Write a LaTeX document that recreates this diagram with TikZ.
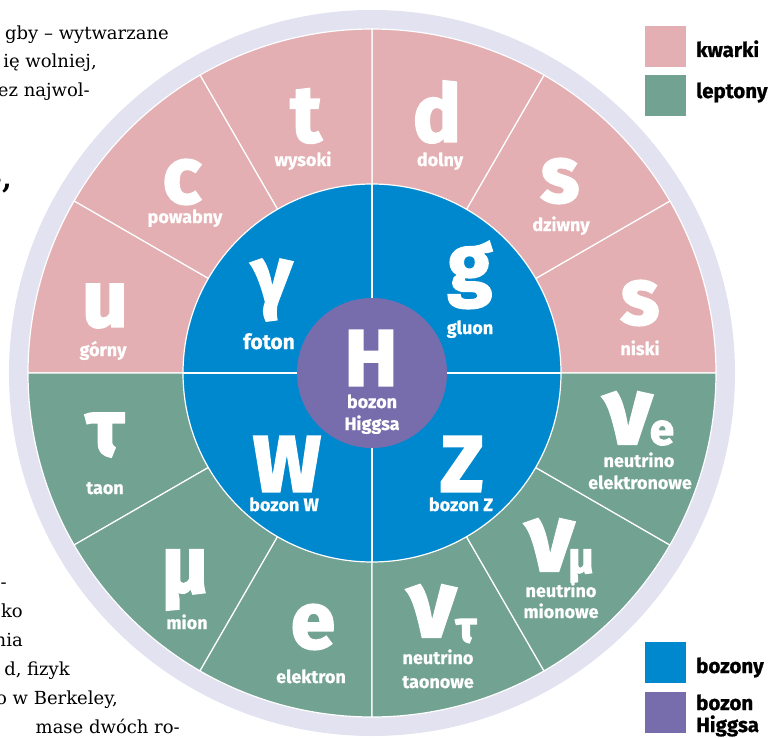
\documentclass[tikz,border=0pt]{standalone}
\usepackage{fontspec}
\newfontfamily\labfont{Fira Sans}[FakeBold=0.5]
\newfontfamily\legfont{Fira Sans}[FakeBold=0.8]
\newfontfamily\heavyfont{Fira Sans}[FakeBold=2.5]
\newfontfamily\bodyfont{DejaVu Serif}
\definecolor{quark}{HTML}{E3AFB2}
\definecolor{lepton}{HTML}{72A291}
\definecolor{boson}{HTML}{0088CF}
\definecolor{higgs}{HTML}{786DAC}
\definecolor{ring}{HTML}{E3E2F1}
\tikzset{
  sep/.style={draw=white, line width=1.2pt},
  bigl/.style={text=white, inner sep=0pt, anchor=center, font=\heavyfont\bfseries\fontsize{80}{80}\selectfont},
  nul/.style={text=white, inner sep=0pt, anchor=center, font=\heavyfont\bfseries\fontsize{95}{95}\selectfont},
  subl/.style={text=white, inner sep=0pt, anchor=center, font=\heavyfont\bfseries\fontsize{44}{44}\selectfont},
  lab/.style={text=white, inner sep=0pt, anchor=base, font=\labfont\bfseries\fontsize{18}{18}\selectfont},
  leg/.style={text=black, inner sep=0pt, anchor=base west, font=\legfont\bfseries\fontsize{20.5}{20.5}\selectfont},
  body/.style={text=black, inner sep=0pt, anchor=base east, font=\bodyfont\fontsize{18}{18}\selectfont},
}
\begin{document}
\begin{tikzpicture}[x=1pt,y=1pt]
\useasboundingbox (-372,-364) rectangle (398,373);
% surrounding text fragments
\node[body] (t1) at (-203,333) {gby – wytwarzane};
\node[body] (t2) at (-275,305) {ię wolniej,};
\node[body] (t3) at (-282,276) {ez najwol-};
\node[body, font=\bodyfont\bfseries\fontsize{28}{28}\selectfont] (t4) at (-360,185) {e,};
\node[body] (b1) at (-365,-215) {-};
\node[body] (b2) at (-349,-244) {ko};
\node[body] (b3) at (-349,-273) {nia};
\node[body] (b4) at (-302,-302) {d, fizyk};
\node[body] (b5) at (-254,-331) {o w Berkeley,};
\node[body] (b6) at (-192,-360) {mase dwóch ro-};
% wheel
\fill[ring] (0,0) circle (363);
\foreach \i in {0,...,5}{
  \filldraw[fill=quark, sep] (0,0) -- (\i*30:344) arc (\i*30:\i*30+30:344) -- cycle;
}
\foreach \i in {6,...,11}{
  \filldraw[fill=lepton, sep] (0,0) -- (\i*30:344) arc (\i*30:\i*30+30:344) -- cycle;
}
\filldraw[fill=boson, sep] (0,0) circle (189);
\draw[sep] (-189,0) -- (189,0);
\draw[sep] (0,-189) -- (0,189);
\fill[higgs] (0,0) circle (75);
% quarks
\node[bigl] (qt) at (-66,257) {t};
\node[lab] (lt) at (-69,207) {wysoki};
\node[bigl] (qd) at (65,261) {d};
\node[lab] (ld) at (68,207) {dolny};
\node[bigl] (qc) at (-190,191) {c};
\node[lab] (lc) at (-187,150) {powabny};
\node[bigl] (qs) at (188,192) {s};
\node[lab] (ls) at (189,142) {dziwny};
\node[bigl] (qu) at (-267,67) {u};
\node[lab] (lu) at (-269,17) {górny};
\node[bigl] (qb) at (268,70) {s};
\node[lab] (lb) at (268,18) {niski};
% bosons
\node[bigl] (bg) at (-100,83) {γ};
\node[lab, font=\labfont\bfseries\fontsize{21}{21}\selectfont] (lg) at (-103,24) {foton};
\node[bigl] (bgl) at (98,98) {g};
\node[lab] (lgl) at (98,39) {gluon};
\node[bigl] (bh) at (-1,15) {H};
\node[lab] (lh1) at (0,-35) {bozon};
\node[lab] (lh2) at (0,-57) {Higgsa};
\node[bigl] (bw) at (-85,-91) {W};
\node[lab] (lw) at (-88,-138) {bozon W};
\node[bigl] (bz) at (90,-91) {Z};
\node[lab] (lz) at (89,-138) {bozon Z};
% leptons
\node[bigl] (ltau) at (-267,-62) {τ};
\node[lab] (ltaul) at (-267,-121) {taon};
\node[bigl] (lmu) at (-187,-207) {μ};
\node[lab] (lmul) at (-185,-256) {mion};
\node[bigl] (lel) at (-59,-254) {e};
\node[lab] (lell) at (-61,-310) {elektron};
\node[nul] (nue) at (256,-45) {ν};
\node[subl] (nues) at (290,-60) {e};
\node[lab] (nuel1) at (267,-94) {neutrino};
\node[lab] (nuel2) at (268,-116) {elektronowe};
\node[nul] (num) at (178,-172) {ν};
\node[subl] (nums) at (209,-193) {μ};
\node[lab] (numl1) at (189,-224) {neutrino};
\node[lab] (numl2) at (189,-245) {mionowe};
\node[nul] (nut) at (60,-238) {ν};
\node[subl] (nuts) at (94,-258) {τ};
\node[lab] (nutl1) at (66,-291) {neutrino};
\node[lab] (nutl2) at (66,-315) {taonowe};
% legend
\fill[quark] (273,306) rectangle (314,347);
\node[leg] (k1) at (324,316) {kwarki};
\fill[lepton] (273,257) rectangle (314,298);
\node[leg] (k2) at (324,275) {leptony};
\fill[boson] (273,-310) rectangle (314,-269);
\node[leg] (k3) at (324,-300) {bozony};
\fill[higgs] (273,-360) rectangle (314,-319);
\node[leg] (k4) at (324,-337) {bozon};
\node[leg] (k5) at (324,-359) {Higgsa};
\end{tikzpicture}
\end{document}
